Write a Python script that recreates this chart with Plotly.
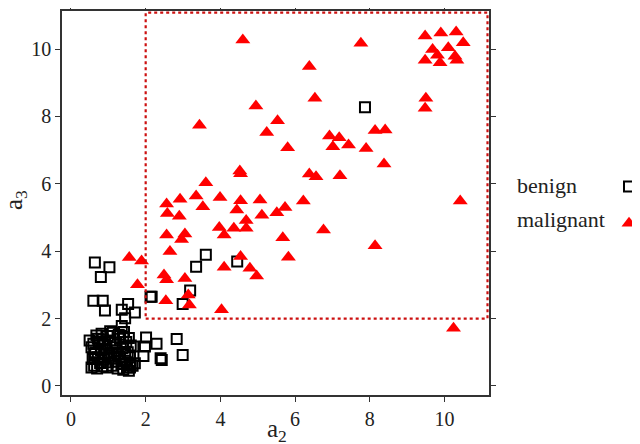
import plotly.graph_objects as go

# ---- data ----
benign_a2 = [7.87, 3.61, 3.35, 4.45, 3.19, 2.99, 2.13, 0.64, 1.03, 0.80, 0.60, 0.85, 0.91,
             1.53, 1.36, 1.71, 1.45, 1.36, 2.16, 2.01, 2.29, 2.83, 2.99, 2.40, 1.94, 1.98,
             1.67, 1.71, 2.43,
             0.55, 0.62, 0.70, 0.85, 0.95, 1.10, 1.25, 1.40, 1.50, 1.60,
             0.58, 0.72, 0.88, 1.02, 1.15, 1.30, 1.45, 1.58, 0.65, 0.80,
             0.95, 1.08, 1.22, 1.38, 1.52, 0.60, 0.75, 0.90, 1.05, 1.18,
             1.32, 1.48, 0.68, 0.82, 0.98, 1.12, 1.28, 1.42, 0.55, 1.60,
             0.78, 1.00, 1.20, 1.35, 0.90, 1.12, 1.25, 0.72, 1.40, 1.55,
             0.50, 1.45, 0.62, 1.05, 0.85, 1.65, 1.55, 1.58]
benign_a3 = [8.27, 3.89, 3.54, 3.69, 2.83, 2.43, 2.65, 3.66, 3.52, 3.23, 2.53, 2.53, 2.24,
             2.43, 2.26, 2.18, 2.01, 1.78, 2.65, 1.44, 1.25, 1.39, 0.92, 0.82, 0.89, 1.17,
             1.17, 0.67, 0.77,
             0.55, 0.60, 0.52, 0.58, 0.55, 0.60, 0.52, 0.48, 0.55, 0.62,
             0.80, 0.85, 0.78, 0.90, 0.82, 0.88, 0.75, 0.85, 1.00, 1.05,
             1.10, 0.98, 1.05, 1.12, 1.00, 1.25, 1.30, 1.22, 1.35, 1.28,
             1.40, 1.30, 1.50, 1.55, 1.48, 1.58, 1.52, 1.60, 1.15, 1.20,
             0.68, 0.70, 0.72, 0.65, 0.95, 1.15, 0.95, 1.40, 1.45, 1.42,
             1.35, 0.95, 0.95, 1.62, 1.38, 0.60, 0.45, 0.55]

malignant_a2 = [4.60, 7.76, 9.48, 9.90, 10.31, 10.50, 9.68, 10.10, 9.48, 9.81, 9.88, 10.28,
                10.33, 6.38, 9.50, 9.48, 6.53, 4.95, 3.44, 5.53, 5.24, 5.80, 6.92, 7.18,
                7.01, 7.43, 7.90, 8.14, 8.41, 8.38, 4.52, 4.54, 6.38, 6.56, 7.20, 3.61,
                10.42, 2.56, 2.92, 3.35, 3.53, 3.99, 4.54, 5.06, 6.22, 5.73, 5.51, 2.58,
                2.90, 4.44, 5.11, 4.69, 4.69, 4.36, 3.97, 4.10, 2.56, 3.05, 2.96, 2.65,
                1.56, 1.89, 4.54, 4.10, 4.79, 4.97, 1.78, 2.49, 2.56, 3.05, 2.54, 3.14,
                3.17, 4.03, 10.24, 6.76, 8.14, 5.67, 5.82]
malignant_a3 = [10.27, 10.17, 10.39, 10.48, 10.51, 10.19, 9.99, 10.04, 9.67, 9.82, 9.59, 9.79,
                9.67, 9.48, 8.54, 8.24, 8.54, 8.31, 7.74, 7.87, 7.52, 7.07, 7.42, 7.37,
                7.10, 7.15, 7.05, 7.58, 7.60, 6.59, 6.38, 6.30, 6.29, 6.21, 6.24, 6.03,
                5.49, 5.40, 5.54, 5.64, 5.32, 5.59, 5.50, 5.52, 5.49, 5.30, 5.14, 5.12,
                5.04, 5.22, 5.07, 4.91, 4.68, 4.68, 4.70, 4.48, 4.48, 4.51, 4.35, 3.99,
                3.81, 3.71, 3.84, 3.52, 3.49, 3.26, 3.00, 3.29, 3.15, 3.19, 2.53, 2.70,
                2.40, 2.26, 1.71, 4.63, 4.16, 4.40, 3.82]

x_ticks = [0, 2, 4, 6, 8, 10]
y_ticks = [0, 2, 4, 6, 8, 10]
x_range = [-0.24, 11.19]
y_range = [-0.27, 11.13]
region_a2_min = 2
region_a3_min = 2
region_a2_max = 11.15
region_a3_max = 11.08
legend_names = ["benign", "malignant"]
x_title = "a<sub>2</sub>"
y_title = "a<sub>3</sub>"

FONT = "Liberation Serif, Times New Roman, serif"
TXT = "#222222"
W, H = 640, 444
OFF = 8  # page body margin offset
L, T = 62 - OFF, 11 - OFF
R = W - (489 - OFF)
B = H - (395 - OFF)
PW, PH = W - L - R, H - T - B

fig = go.Figure()
fig.add_trace(go.Scatter(
    x=benign_a2, y=benign_a3, mode="markers", name=" ",
    marker=dict(symbol="square-open", size=10, color="black", line=dict(width=2, color="black")),
))
fig.add_trace(go.Scatter(
    x=malignant_a2, y=malignant_a3, mode="markers", name=" ",
    marker=dict(symbol="triangle-up", size=13, color="#ff0000", line=dict(width=0)),
))

fig.add_shape(type="rect", xref="x", yref="y",
              x0=region_a2_min, x1=region_a2_max, y0=region_a3_min, y1=region_a3_max,
              line=dict(color="#cc1010", width=2.2, dash="dot"))

axis_common = dict(
    showgrid=False, zeroline=False, showline=True, linecolor="#333333", linewidth=1.5,
    mirror="ticks", ticks="outside", ticklen=5, tickwidth=1.3, tickcolor="#333333",
    tickfont=dict(family=FONT, size=20, color=TXT), automargin=False,
)
fig.update_xaxes(range=x_range, tickvals=x_ticks, **axis_common)
fig.update_yaxes(range=y_range, tickvals=y_ticks, **axis_common)

# axis titles
fig.add_annotation(text=x_title, xref="paper", yref="paper",
                   x=(277 - OFF - L) / PW, xanchor="center",
                   y=-(430 - 395) / PH, yanchor="middle",
                   showarrow=False, font=dict(family=FONT, size=25, color=TXT))
fig.add_annotation(text=y_title, xref="paper", yref="paper",
                   x=-(62 - 15) / PW, xanchor="center",
                   y=(395 - 200) / PH, yanchor="middle", textangle=-90,
                   showarrow=False, font=dict(family=FONT, size=25, color=TXT))

for i, name in enumerate(legend_names):
    fig.add_annotation(text=name, xref="paper", yref="paper",
                       x=(515 - OFF - L) / PW, xanchor="left",
                       y=(H - B - (185 - OFF + 35 * i)) / PH, yanchor="middle",
                       showarrow=False, font=dict(family=FONT, size=22, color=TXT))

fig.update_layout(
    width=W, height=H,
    margin=dict(l=L, r=R, t=T, b=B, autoexpand=False),
    paper_bgcolor="white", plot_bgcolor="white",
    showlegend=True,
    legend=dict(x=(633 - OFF - 24) / W, xref="container", xanchor="left",
                y=(H - 155) / H, yref="container",
                yanchor="top", font=dict(family=FONT, size=26), itemwidth=30,
                bgcolor="rgba(0,0,0,0)"),
)

fig.write_html("out.html")
